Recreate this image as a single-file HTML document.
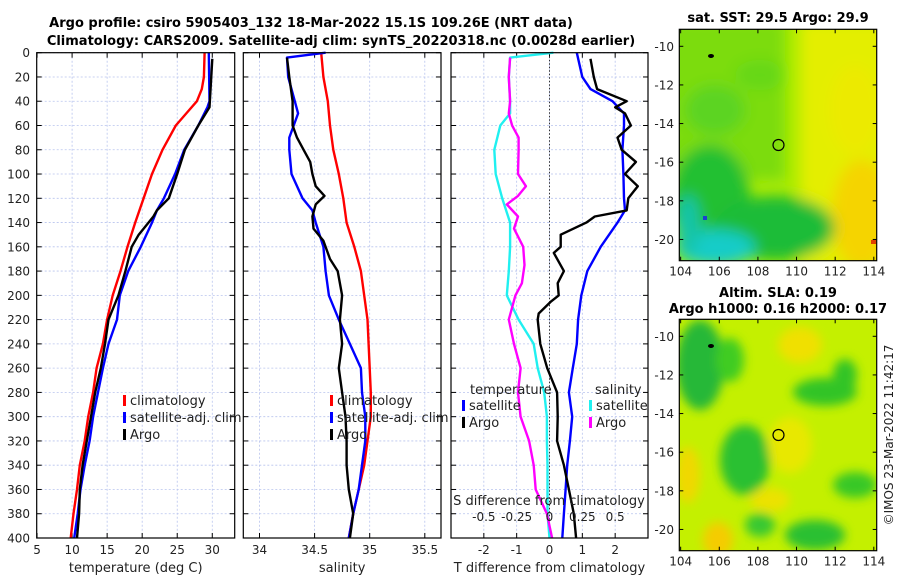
<!DOCTYPE html>
<html><head><meta charset="utf-8"><style>
html,body{margin:0;padding:0;background:#fff}
svg{display:block;font-family:"DejaVu Sans","Liberation Sans",sans-serif}
</style></head><body>
<svg id="c" width="900" height="580" viewBox="0 0 900 580" xmlns="http://www.w3.org/2000/svg">
<defs>
<filter id="bl" x="-50%" y="-50%" width="200%" height="200%"><feGaussianBlur stdDeviation="7"/></filter>
<filter id="bl2" x="-50%" y="-50%" width="200%" height="200%"><feGaussianBlur stdDeviation="5"/></filter>
<clipPath id="m1c"><rect x="679" y="29" width="198" height="232"/></clipPath>
<clipPath id="m2c"><rect x="679" y="319" width="198" height="232"/></clipPath>
</defs>
<g font-weight="bold" font-size="13" text-anchor="middle" fill="#000">
<text x="311" y="27">Argo profile: csiro 5905403_132 18-Mar-2022 15.1S 109.26E (NRT data)</text>
<text x="341" y="45">Climatology: CARS2009. Satellite-adj clim: synTS_20220318.nc (0.0028d earlier)</text>
<text x="778" y="22">sat. SST: 29.5 Argo: 29.9</text>
<text x="778" y="297">Altim. SLA: 0.19</text>
<text x="778" y="313">Argo h1000: 0.16 h2000: 0.17</text>
</g>
<!-- SST map -->
<g clip-path="url(#m1c)">
<rect x="679" y="29" width="198" height="232" fill="#aaec00"/>
<g filter="url(#bl)">
<rect x="660" y="20" width="125" height="160" fill="#7cdc10"/>
<rect x="800" y="20" width="100" height="250" fill="#e4ee00"/>
<ellipse cx="862" cy="215" rx="30" ry="55" fill="#f5d400"/>
<ellipse cx="855" cy="110" rx="25" ry="45" fill="#ecea00"/>
<ellipse cx="715" cy="110" rx="30" ry="25" fill="#5cd420"/>
<ellipse cx="760" cy="75" rx="25" ry="15" fill="#66d818"/>
<ellipse cx="710" cy="200" rx="40" ry="55" fill="#22c030"/>
<ellipse cx="775" cy="228" rx="60" ry="32" fill="#1cbc38"/>
<ellipse cx="715" cy="248" rx="40" ry="18" fill="#18ccc8"/>
<ellipse cx="688" cy="225" rx="12" ry="30" fill="#18c4a8"/>
</g>
<rect x="703" y="216" width="4" height="4" fill="#1a40d0"/>
<rect x="871" y="240" width="5" height="4" fill="#e04000"/>
<ellipse cx="711" cy="56" rx="3" ry="2" fill="#000"/>
<circle cx="778.5" cy="145" r="5.5" fill="none" stroke="#000" stroke-width="1.2"/>
</g>
<!-- SLA map -->
<g clip-path="url(#m2c)">
<rect x="679" y="319" width="198" height="232" fill="#c4f000"/>
<g filter="url(#bl2)">
<ellipse cx="700" cy="365" rx="24" ry="45" fill="#28b838"/>
<ellipse cx="730" cy="360" rx="14" ry="22" fill="#40cc20"/>
<ellipse cx="745" cy="460" rx="25" ry="35" fill="#2cc030"/>
<ellipse cx="825" cy="392" rx="32" ry="14" fill="#30c428"/>
<ellipse cx="845" cy="375" rx="12" ry="16" fill="#30c428"/>
<ellipse cx="855" cy="485" rx="22" ry="13" fill="#38c828"/>
<ellipse cx="815" cy="535" rx="30" ry="15" fill="#2cc030"/>
<ellipse cx="760" cy="525" rx="15" ry="12" fill="#38c830"/>
<ellipse cx="800" cy="345" rx="22" ry="18" fill="#f0e000"/>
<ellipse cx="688" cy="475" rx="12" ry="28" fill="#f0d800"/>
<ellipse cx="718" cy="540" rx="15" ry="18" fill="#f5cc00"/>
<ellipse cx="790" cy="445" rx="22" ry="28" fill="#e8e800"/>
<ellipse cx="770" cy="500" rx="20" ry="12" fill="#ece200"/>
</g>
<ellipse cx="711" cy="346" rx="3" ry="2" fill="#000"/>
<circle cx="778.5" cy="435" r="5.5" fill="none" stroke="#000" stroke-width="1.2"/>
</g>
<text transform="translate(893,435) rotate(-90)" font-size="12" text-anchor="middle" fill="#222">©IMOS 23-Mar-2022 11:42:17</text>
</svg>
<script>
// ---- data ----
const tDepthRed=[0,20,30,40,50,60,80,100,120,140,160,180,200,220,240,260,280,300,320,340,360,380,400];
const tClim=[28.9,28.8,28.5,27.8,26.3,24.8,22.9,21.4,20.2,19.0,17.9,16.9,15.8,15.0,14.4,13.5,13.0,12.3,11.8,11.1,10.7,10.2,9.8];
const tDepthBlue=[0,40,45,60,80,100,120,130,140,160,180,200,220,240,260,280,300,320,340,360,380,400];
const tSat=[29.5,29.6,29.3,28.0,26.0,24.7,23.1,22.1,21.4,19.8,18.0,16.8,16.4,15.2,14.4,13.7,13.0,12.5,11.8,11.2,10.8,10.3];
const tDepthArgo=[5,45,60,80,100,120,130,135,140,150,160,180,200,220,240,260,280,300,320,340,360,380,400];
const tArgo=[30.0,29.6,28.0,26.1,25.0,23.8,22.1,21.6,20.9,19.5,18.5,17.6,16.6,15.2,14.7,14.1,13.3,12.7,12.1,11.5,11.1,11.0,10.7];
const sDepthRed=[0,20,40,60,80,100,120,140,160,180,200,220,240,260,280,300,320,340,360,380,400];
const sClim=[34.56,34.58,34.62,34.64,34.67,34.72,34.76,34.79,34.86,34.92,34.95,34.98,34.99,35.0,35.01,35.01,34.98,34.95,34.90,34.85,34.81];
const sDepthBlue=[0,4,20,40,50,60,70,80,100,120,130,140,160,180,200,220,240,260,280,300,320,340,360,380,400];
const sSat=[34.60,34.25,34.26,34.32,34.35,34.31,34.27,34.27,34.29,34.39,34.48,34.51,34.58,34.60,34.63,34.72,34.82,34.92,34.93,34.96,34.96,34.93,34.90,34.85,34.81];
const sDepthArgo=[4,20,40,60,70,80,90,100,110,118,125,135,145,155,170,180,200,220,240,260,280,300,320,340,360,380,400];
const sArgo=[34.25,34.27,34.30,34.30,34.34,34.40,34.46,34.48,34.51,34.59,34.51,34.48,34.49,34.58,34.64,34.71,34.75,34.73,34.75,34.72,34.75,34.78,34.79,34.79,34.81,34.85,34.82];
const dDepthTsat=[0,20,30,40,50,60,80,100,120,130,140,160,180,200,220,240,260,280,300,320,340,360,380,400];
const dTsat=[0.83,1.0,1.25,1.92,2.27,2.27,2.22,2.25,2.27,2.30,2.07,1.56,1.15,0.97,0.87,0.83,0.71,0.59,0.69,0.62,0.54,0.49,0.44,0.39];
const dDepthTargo=[5,20,30,40,45,50,60,70,80,90,100,110,120,130,135,140,150,160,165,180,190,200,205,215,220,240,260,280,300,320,340,360,380,400];
const dTargo=[1.25,1.35,1.45,2.35,2.0,2.3,2.48,2.07,2.2,2.63,2.3,2.69,2.4,2.35,1.38,1.12,0.34,0.34,0.13,0.44,0.25,0.28,0.05,-0.33,-0.36,-0.28,-0.07,0.23,0.25,0.23,0.44,0.59,0.74,0.81];
const dDepthSsat=[0,4,20,40,50,60,80,100,120,140,160,180,200,220,240,260,280,300,320,340,360,380,400];
const dSsat=[0.03,-0.30,-0.31,-0.30,-0.30,-0.375,-0.42,-0.41,-0.36,-0.30,-0.30,-0.31,-0.325,-0.235,-0.12,-0.09,-0.04,-0.02,-0.02,-0.015,-0.015,-0.015,0.0];
const dDepthSargo=[4,20,40,50,60,70,80,100,110,118,125,135,145,160,175,190,200,220,240,260,280,300,320,340,360,380,400];
const dSargo=[-0.30,-0.31,-0.30,-0.31,-0.285,-0.235,-0.235,-0.24,-0.18,-0.24,-0.325,-0.24,-0.27,-0.20,-0.19,-0.21,-0.26,-0.31,-0.27,-0.22,-0.24,-0.22,-0.155,-0.12,-0.105,-0.02,0.02];
const depthTicks=[0,20,40,60,80,100,120,140,160,180,200,220,240,260,280,300,320,340,360,380,400];
const tTicks=[5,10,15,20,25,30];
const sTicks=[34,34.5,35,35.5];
const dTTicks=[-2,-1,0,1,2];
const dSTicks=[-0.5,-0.25,0,0.25,0.5];
const lonTicks=[104,106,108,110,112,114];
const latTicks=[-10,-12,-14,-16,-18,-20];

const NS='http://www.w3.org/2000/svg';
const svg=document.getElementById('c');
function el(tag,attrs,parent){const e=document.createElementNS(NS,tag);for(const k in attrs)e.setAttribute(k,attrs[k]);(parent||svg).appendChild(e);return e;}
const Y0=52.7,Y1=538;
const yD=d=>Y0+(Y1-Y0)*d/400;

function panel(name,x0,x1,vmin,vmax,ticks,fmt,xlabel){
  const g=el('g',{});
  
  
  const xs=v=>x0+(x1-x0)*(v-vmin)/(vmax-vmin);
  depthTicks.forEach(d=>{
    const l=el('line',{x1:x0,x2:x1,y1:yD(d),y2:yD(d),stroke:'#b8c4ee','stroke-width':0.8,'stroke-dasharray':'2,2'},g);
    
    
    el('line',{x1:x0,x2:x0+5,y1:yD(d),y2:yD(d),stroke:'#000'},g);
    el('line',{x1:x1-5,x2:x1,y1:yD(d),y2:yD(d),stroke:'#000'},g);
  });
  ticks.forEach(v=>{
    const x=xs(v);
    if(x>x0+1&&x<x1-1){const l=el('line',{x1:x,x2:x,y1:Y0,y2:Y1,stroke:'#b8c4ee','stroke-width':0.8,'stroke-dasharray':'2,2'},g);
    
    }
    el('line',{x1:x,x2:x,y1:Y1,y2:Y1-5,stroke:'#000'},g);
    el('line',{x1:x,x2:x,y1:Y0,y2:Y0+5,stroke:'#000'},g);
    const t=el('text',{x:x,y:Y1+16,'font-size':12,'text-anchor':'middle',fill:'#222'},g);
    
    
    t.textContent=fmt(v);
  });
  const t=el('text',{x:(x0+x1)/2,y:572,'font-size':13,'text-anchor':'middle',fill:'#222'},g);
  
  
  t.textContent=xlabel;
  return {g,xs};
}
function line(p,depths,vals,color,w,name){
  const pts=depths.map((d,i)=>p.xs(vals[i]).toFixed(1)+','+yD(d).toFixed(1)).join(' ');
  const l=el('polyline',{points:pts,fill:'none',stroke:color,'stroke-width':w,'stroke-linejoin':'round'},p.g);
  
  
}
function frame(p,x0,x1){const r=el('rect',{x:x0,y:Y0,width:x1-x0,height:Y1-Y0,fill:'none',stroke:'#000','stroke-width':1.2},p.g);
  
  }
function legend(p,x,y,items){
  items.forEach((it,i)=>{
    el('rect',{x:x,y:y+i*17-10,width:3,height:11,fill:it[1]},p.g);
    const t=el('text',{x:x+7,y:y+i*17,'font-size':13,fill:'#222'},p.g);
    
    
    t.textContent=it[0];
  });
}
depthTicks.forEach(d=>{
  const t=el('text',{x:30,y:yD(d)+4.5,'font-size':12,'text-anchor':'end',fill:'#222'});
  
  
  t.textContent=d;
});
const p1=panel('temperature-panel',36.7,234.7,4.95,33.2,tTicks,v=>v,'temperature (deg C)');
line(p1,tDepthRed,tClim,'#f00',2.4,'temp-climatology-line');
line(p1,tDepthBlue,tSat,'#00f',2.4,'temp-satellite-line');
line(p1,tDepthArgo,tArgo,'#000',2.4,'temp-argo-line');
frame(p1,36.7,234.7);
legend(p1,123,405,[['climatology','#f00'],['satellite-adj. clim','#00f'],['Argo','#000']]);
const p2=panel('salinity-panel',243.3,441,33.853,35.647,sTicks,v=>v,'salinity');
line(p2,sDepthRed,sClim,'#f00',2.4,'sal-climatology-line');
line(p2,sDepthBlue,sSat,'#00f',2.4,'sal-satellite-line');
line(p2,sDepthArgo,sArgo,'#000',2.4,'sal-argo-line');
frame(p2,243.3,441);
legend(p2,330,405,[['climatology','#f00'],['satellite-adj. clim','#00f'],['Argo','#000']]);
const p3=panel('difference-panel',451,648,-3.0,3.0,dTTicks,v=>v,'T difference from climatology');
el('line',{x1:p3.xs(0),x2:p3.xs(0),y1:Y0,y2:Y1,stroke:'#333','stroke-width':1,'stroke-dasharray':'1.5,2'},p3.g);
const p3s={g:p3.g,xs:v=>p3.xs(v*4)};
line(p3s,dDepthSsat,dSsat,'#20f0f0',2.4,'sdiff-satellite-line');
line(p3s,dDepthSargo,dSargo,'#f0f',2.4,'sdiff-argo-line');
line(p3,dDepthTsat,dTsat,'#00f',2.4,'tdiff-satellite-line');
line(p3,dDepthTargo,dTargo,'#000',2.4,'tdiff-argo-line');
frame(p3,451,648);
{const t=el('text',{x:549,y:505,'font-size':13,'text-anchor':'middle',fill:'#222'},p3.g);


t.textContent='S difference from climatology';
dSTicks.forEach(v=>{const s=el('text',{x:p3s.xs(v),y:521,'font-size':12,'text-anchor':'middle',fill:'#222'},p3.g);


s.textContent=v;});
const h1=el('text',{x:470,y:394,'font-size':13,fill:'#222'},p3.g);


h1.textContent='temperature';
const h2=el('text',{x:595,y:394,'font-size':13,fill:'#222'},p3.g);


h2.textContent='salinity';
legend(p3,462,410,[['satellite','#00f'],['Argo','#000']]);
legend(p3,589,410,[['satellite','#20f0f0'],['Argo','#f0f']]);}
function mapAxes(name,top,bot,latTop,latBot){
  const g=el('g',{});
  
  
  const xl=v=>679.3+(876.7-679.3)*(v-103.93)/(114.15-103.93);
  const yl=v=>top+(bot-top)*(v-latTop)/(latBot-latTop);
  const r=el('rect',{x:679.3,y:top,width:197.4,height:bot-top,fill:'none',stroke:'#000','stroke-width':1.2},g);
  
  
  lonTicks.forEach(v=>{const x=xl(v);el('line',{x1:x,x2:x,y1:bot,y2:bot-4,stroke:'#000'},g);el('line',{x1:x,x2:x,y1:top,y2:top+4,stroke:'#000'},g);
    const t=el('text',{x:x,y:bot+15,'font-size':12,'text-anchor':'middle',fill:'#222'},g);
    
    
    t.textContent=v;});
  latTicks.forEach(v=>{const y=yl(v);el('line',{x1:679.3,x2:683.3,y1:y,y2:y,stroke:'#000'},g);el('line',{x1:872.7,x2:876.7,y1:y,y2:y,stroke:'#000'},g);
    const t=el('text',{x:674,y:y+4.5,'font-size':12,'text-anchor':'end',fill:'#222'},g);
    
    
    t.textContent=v;});
}
mapAxes('sst-map-axes',29.3,260.7,-9.12,-21.1);
mapAxes('sla-map-axes',319.3,550.7,-9.12,-21.1);
</script>
</body></html>
